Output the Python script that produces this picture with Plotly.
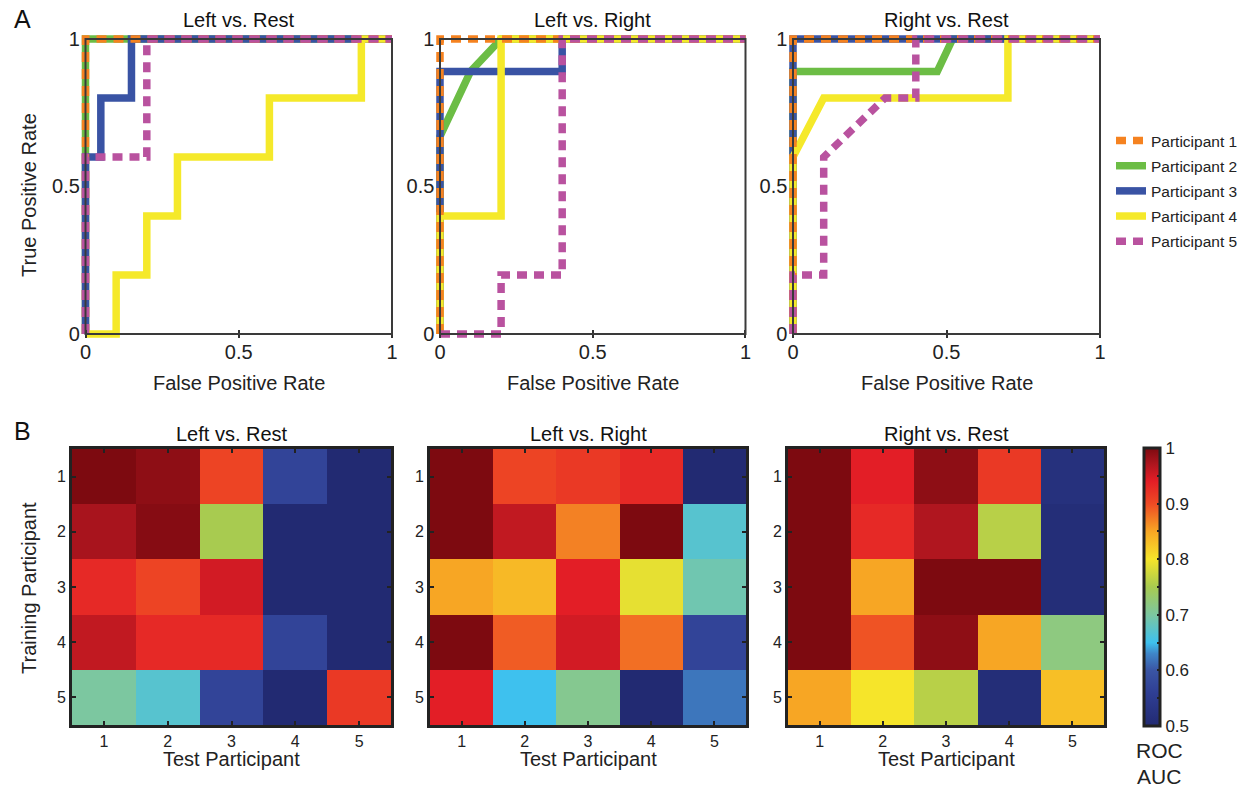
import plotly.graph_objects as go

W, H = 1252, 788
FONT = "Liberation Sans, Arial, sans-serif"

# ---------------- data ----------------
participants = ["Participant 1", "Participant 2", "Participant 3", "Participant 4", "Participant 5"]
colors = ["#f58220", "#6cbd45", "#3953a4", "#f5e92a", "#b9529f"]
dashed = [True, False, False, False, True]

panel_titles = ["Left vs. Rest", "Left vs. Right", "Right vs. Rest"]

# ROC curves: (FPR list, TPR list) per participant per panel
roc_left_rest = [
    ([0, 0, 1], [0, 1, 1]),
    ([0, 0, 1], [0, 1, 1]),
    ([0, 0, 0.05, 0.05, 0.15, 0.15, 1], [0, 0.6, 0.6, 0.8, 0.8, 1, 1]),
    ([0, 0.1, 0.1, 0.2, 0.2, 0.3, 0.3, 0.6, 0.6, 0.9, 0.9, 1],
     [0, 0, 0.2, 0.2, 0.4, 0.4, 0.6, 0.6, 0.8, 0.8, 1, 1]),
    ([0, 0, 0.2, 0.2, 1], [0, 0.6, 0.6, 1, 1]),
]
roc_left_right = [
    ([0, 0, 1], [0, 1, 1]),
    ([0, 0, 0.1, 0.2, 1], [0, 0.67, 0.89, 1, 1]),
    ([0, 0, 0.4, 0.4, 1], [0, 0.89, 0.89, 1, 1]),
    ([0, 0, 0.2, 0.2, 1], [0, 0.4, 0.4, 1, 1]),
    ([0, 0.2, 0.2, 0.4, 0.4, 1], [0, 0, 0.2, 0.2, 1, 1]),
]
roc_right_rest = [
    ([0, 0, 1], [0, 1, 1]),
    ([0, 0, 0.47, 0.52, 1], [0, 0.89, 0.89, 1, 1]),
    ([0, 0, 1], [0, 1, 1]),
    ([0, 0, 0.1, 0.7, 0.7, 1], [0, 0.6, 0.8, 0.8, 1, 1]),
    ([0, 0, 0.1, 0.1, 0.3, 0.4, 0.4, 1], [0, 0.2, 0.2, 0.6, 0.8, 0.8, 1, 1]),
]
roc_panels = [roc_left_rest, roc_left_right, roc_right_rest]

# Cross-participant ROC AUC (rows: training participant, cols: test participant)
auc_left_rest = [
    [1.00, 0.99, 0.905, 0.57, 0.50],
    [0.975, 0.995, 0.75, 0.50, 0.50],
    [0.93, 0.905, 0.95, 0.50, 0.50],
    [0.96, 0.93, 0.93, 0.57, 0.50],
    [0.70, 0.67, 0.57, 0.50, 0.915],
]
auc_left_right = [
    [1.00, 0.905, 0.915, 0.93, 0.50],
    [1.00, 0.96, 0.87, 1.00, 0.67],
    [0.85, 0.835, 0.94, 0.79, 0.69],
    [1.00, 0.89, 0.95, 0.88, 0.57],
    [0.94, 0.65, 0.71, 0.50, 0.62],
]
auc_right_rest = [
    [1.00, 0.94, 0.99, 0.915, 0.52],
    [1.00, 0.93, 0.97, 0.76, 0.51],
    [1.00, 0.85, 1.00, 1.00, 0.51],
    [1.00, 0.895, 0.99, 0.85, 0.72],
    [0.85, 0.80, 0.76, 0.51, 0.83],
]
auc_panels = [auc_left_rest, auc_left_right, auc_right_rest]
heat_ticks = [1, 2, 3, 4, 5]

colorscale = [
    [0.00, "#222a72"], [0.12, "#2f3f94"], [0.20, "#3a55a4"], [0.26, "#3f86c8"],
    [0.30, "#3ec1ee"], [0.40, "#7cc7a0"], [0.50, "#a8cb50"], [0.60, "#f6e52a"],
    [0.70, "#f7a624"], [0.80, "#ee4a24"], [0.88, "#e31e26"], [0.94, "#b0161f"],
    [1.00, "#7d0a10"],
]

# ---------------- layout helpers ----------------
def px_x(p):
    return p / W

def px_y(p):
    return 1 - p / H

PAD = 0.015
roc_x_px = [(85.5, 392.0), (440.0, 745.5), (793.0, 1100.0)]
roc_y_px = (39.0, 334.0)  # top (TPR=1), bottom (TPR=0)
heat_x_px = [(72, 391), (430, 746), (788, 1104)]
heat_y_px = (449, 725)

fig = go.Figure()
layout = dict(
    width=W, height=H, margin=dict(l=0, r=0, t=0, b=0, autoexpand=False),
    paper_bgcolor="white", plot_bgcolor="white",
    font=dict(family=FONT, color="#222", size=16),
    shapes=[], annotations=[],
)

order = [1, 2, 3, 0, 4]  # solid lines first, dashed on top
for pi, roc in enumerate(roc_panels):
    n = pi + 1
    xa = "x" if n == 1 else f"x{n}"
    ya = "y" if n == 1 else f"y{n}"
    x0p, x1p = roc_x_px[pi]
    sx = (x1p - x0p)
    sy = roc_y_px[1] - roc_y_px[0]
    dom_x = [px_x(x0p - PAD * sx), px_x(x1p + PAD * sx)]
    dom_y = [px_y(roc_y_px[1] + PAD * sy), px_y(roc_y_px[0] - PAD * sy)]
    layout[f"xaxis{'' if n == 1 else n}"] = dict(
        domain=dom_x, range=[-PAD, 1 + PAD], anchor=ya, showgrid=False, zeroline=False,
        showline=False, tickvals=[0, 0.5, 1], ticktext=["0", "0.5", "1"],
        ticks="inside", ticklen=8, tickwidth=2, tickcolor="#333",
        tickfont=dict(size=20, family=FONT, color="#222"), fixedrange=True,
    )
    layout[f"yaxis{'' if n == 1 else n}"] = dict(
        domain=dom_y, range=[-PAD, 1 + PAD], anchor=xa, showgrid=False, zeroline=False,
        showline=False, tickvals=[0, 0.5, 1], ticktext=["0", "0.5", "1"],
        ticks="", tickfont=dict(size=20, family=FONT, color="#222"), fixedrange=True,
    )
    for k in order:
        fx, ty = roc[k]
        fig.add_trace(go.Scatter(
            x=fx, y=ty, mode="lines", xaxis=xa, yaxis=ya,
            line=dict(color=colors[k], width=7.5, dash="10px,7px" if dashed[k] else "solid"),
            name=participants[k], legendgroup=participants[k], legendrank=k + 1,
            showlegend=(pi == 0), hoverinfo="skip",
        ))
    layout["shapes"].append(dict(
        type="rect", xref=xa, yref=ya, x0=0, x1=1, y0=0, y1=1,
        line=dict(color="#3a3a3a", width=2), layer="above",
    ))
    cx = (x0p + x1p) / 2
    layout["annotations"].append(dict(
        text=panel_titles[pi], x=px_x(cx), y=px_y(20), xref="paper", yref="paper",
        showarrow=False, font=dict(size=20, family=FONT, color="#111"),
        xanchor="center", yanchor="middle"))
    layout["annotations"].append(dict(
        text="False Positive Rate", x=px_x(cx), y=px_y(383), xref="paper", yref="paper",
        showarrow=False, font=dict(size=20, family=FONT, color="#222"),
        xanchor="center", yanchor="middle"))

# heatmaps
for pi, z in enumerate(auc_panels):
    n = pi + 4
    xa, ya = f"x{n}", f"y{n}"
    x0p, x1p = heat_x_px[pi]
    layout[f"xaxis{n}"] = dict(
        domain=[px_x(x0p), px_x(x1p)], anchor=ya, range=[0.5, 5.5],
        tickvals=heat_ticks, ticktext=[str(t) for t in heat_ticks],
        showline=True, mirror="allticks", linewidth=3, linecolor="#222",
        ticks="inside", ticklen=4, tickwidth=2, tickcolor="#222",
        showgrid=False, zeroline=False, tickfont=dict(size=16, family=FONT, color="#222"),
        fixedrange=True,
    )
    layout[f"yaxis{n}"] = dict(
        domain=[px_y(heat_y_px[1]), px_y(heat_y_px[0])], anchor=xa, range=[5.5, 0.5],
        tickvals=heat_ticks, ticktext=[str(t) for t in heat_ticks],
        showline=True, mirror="allticks", linewidth=3, linecolor="#222",
        ticks="inside", ticklen=4, tickwidth=2, tickcolor="#222",
        showgrid=False, zeroline=False, tickfont=dict(size=16, family=FONT, color="#222"),
        fixedrange=True,
    )
    fig.add_trace(go.Heatmap(
        z=z, x=heat_ticks, y=heat_ticks, xaxis=xa, yaxis=ya,
        zmin=0.5, zmax=1.0, colorscale=colorscale, showscale=(pi == 2),
        hoverinfo="skip",
        colorbar=dict(
            x=px_x(1144), xanchor="left", xref="paper", xpad=0, ypad=0,
            y=px_y((448 + 726) / 2), yanchor="middle", yref="paper",
            len=(726 - 448) / H, lenmode="fraction", thickness=16,
            outlinewidth=3, outlinecolor="#222",
            tickvals=[0.5, 0.55, 0.6, 0.65, 0.7, 0.75, 0.8, 0.85, 0.9, 0.95, 1.0],
            ticktext=["0.5", "", "0.6", "", "0.7", "", "0.8", "", "0.9", "", "1"],
            ticks="inside", ticklen=4, tickwidth=2, tickcolor="#222",
            tickfont=dict(size=17, family=FONT, color="#222"),
        ),
    ))
    cx = (x0p + x1p) / 2
    layout["annotations"].append(dict(
        text=panel_titles[pi], x=px_x(cx), y=px_y(434), xref="paper", yref="paper",
        showarrow=False, font=dict(size=20, family=FONT, color="#111"),
        xanchor="center", yanchor="middle"))
    layout["annotations"].append(dict(
        text="Test Participant", x=px_x(cx), y=px_y(759), xref="paper", yref="paper",
        showarrow=False, font=dict(size=20, family=FONT, color="#222"),
        xanchor="center", yanchor="middle"))

# side labels
for txt, yc in [("True Positive Rate", 195), ("Training Participant", 588)]:
    layout["annotations"].append(dict(
        text=txt, x=px_x(29), y=px_y(yc), xref="paper", yref="paper", textangle=-90,
        showarrow=False, font=dict(size=20, family=FONT, color="#222"),
        xanchor="center", yanchor="middle"))
for txt, yc in [("A", 19), ("B", 431)]:
    layout["annotations"].append(dict(
        text=txt, x=px_x(22), y=px_y(yc), xref="paper", yref="paper",
        showarrow=False, font=dict(size=25, family=FONT, color="#111"),
        xanchor="center", yanchor="middle"))
for txt, yc in [("ROC", 750), ("AUC", 776)]:
    layout["annotations"].append(dict(
        text=txt, x=px_x(1159), y=px_y(yc), xref="paper", yref="paper",
        showarrow=False, font=dict(size=21, family=FONT, color="#222"),
        xanchor="center", yanchor="middle"))

layout["legend"] = dict(
    x=px_x(1111), y=px_y(124), xanchor="left", yanchor="top",
    font=dict(size=15.5, family=FONT, color="#222"), tracegroupgap=2,
    bgcolor="rgba(0,0,0,0)", itemwidth=30, traceorder="grouped",
)
layout["showlegend"] = True

fig.update_layout(**layout)
fig.write_html(
    "out.html",
    config={"displayModeBar": False},
    post_script="document.body.style.margin='0';document.body.style.overflow='hidden';",
)
